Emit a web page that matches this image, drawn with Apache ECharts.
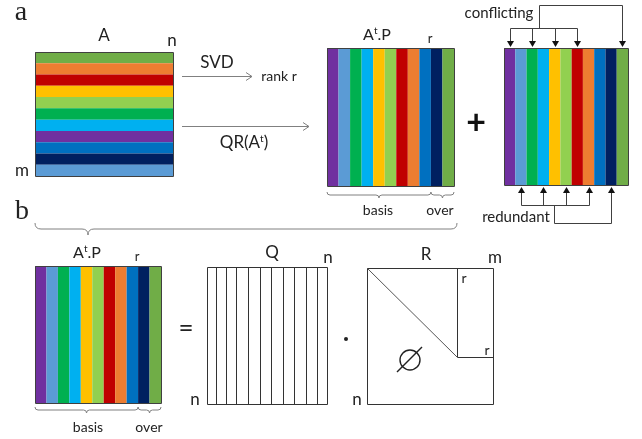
<!DOCTYPE html>
<html><head><meta charset="utf-8">
<script src="https://cdn.jsdelivr.net/npm/echarts/dist/echarts.min.js"></script>
<style>html,body{margin:0;padding:0;background:#fff}#c{width:642px;height:439px}</style>
</head><body><div id="c"></div>
<script>
// ---- data ----
const rowColorsA = ['#70AD47','#ED7D31','#C00000','#FFC000','#92D050','#00B050','#00B0F0','#7030A0','#0070C0','#002060','#5B9BD5'];
const colColorsAtP = ['#7030A0','#5B9BD5','#00B050','#00B0F0','#FFC000','#92D050','#C00000','#ED7D31','#0070C0','#002060','#70AD47'];
const qColumnWidths = [0.93,0.97,1.0,1.2,1.16,1.14,1.16,1.17,1.2,1.1,0.97];
const conflictingCols = [0,2,4,6,10];
const redundantCols = [1,3,5,7,9];
const basisCount = 9;   // columns under "basis"; the rest are "over"

// ---- layout ----
const SANS = 'Lato';
const SERIF = 'Liberation Serif';
const GRAY = '#808080';
const DARK = '#404040';
const mats = {
  A:   {left:35,  top:52,  width:138, height:124},
  top: {left:327, top:48,  width:127, height:138},
  conf:{left:504, top:48,  width:124, height:137},
  bot: {left:35,  top:266, width:126, height:137},
  Q:   {left:207, top:267, width:120, height:137}
};
const R = {left:367, top:268, width:126, height:136, innerX:457, innerY:357};

const grids=[], xAxes=[], yAxes=[], series=[];
function addVertical(m){
  const i=grids.length;
  grids.push(Object.assign({}, m));
  xAxes.push({gridIndex:i,type:'category',data:colColorsAtP.map((c,k)=>'c'+k),show:false});
  yAxes.push({gridIndex:i,type:'value',min:0,max:1,show:false});
  series.push({type:'bar',xAxisIndex:i,yAxisIndex:i,barCategoryGap:'0%',silent:true,
    data:colColorsAtP.map(c=>({value:1,itemStyle:{color:c}}))});
}
// A: horizontal stripes
grids.push(Object.assign({}, mats.A));
xAxes.push({gridIndex:0,type:'value',min:0,max:1,show:false});
yAxes.push({gridIndex:0,type:'category',inverse:true,data:rowColorsA.map((c,k)=>'r'+k),show:false});
series.push({type:'bar',xAxisIndex:0,yAxisIndex:0,barCategoryGap:'0%',silent:true,
  data:rowColorsA.map(c=>({value:1,itemStyle:{color:c}}))});
addVertical(mats.top);
addVertical(mats.conf);
addVertical(mats.bot);
// Q: stacked white columns (separators drawn from the same axis scale)
const qi=grids.length;
grids.push(Object.assign({}, mats.Q));
xAxes.push({gridIndex:qi,type:'value',min:0,max:qColumnWidths.reduce((a,b)=>a+b,0),show:false});
yAxes.push({gridIndex:qi,type:'category',data:['Q'],show:false});
qColumnWidths.forEach((w,k)=>series.push({type:'bar',xAxisIndex:qi,yAxisIndex:qi,stack:'q',barWidth:'100%',silent:true,
  data:[w],itemStyle:{color:'#fff'}}));

// ---- graphic helpers ----
const G=[];
function txt(t,x,y,size,opt){G.push(Object.assign({type:'text',z:10,style:Object.assign({text:t,x:x,y:y,
  font:(opt&&opt.weight?opt.weight+' ':'')+size+'px '+((opt&&opt.family)||SANS),fill:'#222',
  textAlign:'center',textVerticalAlign:'middle',align:'center',verticalAlign:'middle'},(opt&&opt.style)||{})}));}
function sup(base,s,rest,x,y,size){
  G.push({type:'text',z:10,style:{text:'{b|'+base+'}{s|'+s+'}{b|'+rest+'}',x:x,y:y,textAlign:'center',textVerticalAlign:'middle',align:'center',verticalAlign:'middle',
    rich:{b:{fontSize:size,fontFamily:SANS,lineHeight:size+2,fill:'#222',color:'#222'},
          s:{fontSize:Math.round(size*0.6),fontFamily:SANS,lineHeight:Math.round(size*0.6),verticalAlign:'top',fill:'#222',color:'#222'}}}});
}
function line(x1,y1,x2,y2,c,w){G.push({type:'line',z:10,shape:{x1,y1,x2,y2},style:{stroke:c||DARK,lineWidth:w||1}});}
function pline(pts,c,w){G.push({type:'polyline',z:10,shape:{points:pts},style:{stroke:c||DARK,lineWidth:w||1,fill:null}});}
function curve(x1,y1,cx,cy,x2,y2,c){G.push({type:'bezierCurve',z:10,shape:{x1,y1,x2,y2,cpx1:cx,cpy1:cy},style:{stroke:c||GRAY,lineWidth:1,fill:null}});}
function tri(x,y,dir){ // tip at x,y
  const h=6,hw=3.5;
  const pts = dir==='down'?[[x,y],[x-hw,y-h],[x+hw,y-h]]:[[x,y],[x-hw,y+h],[x+hw,y+h]];
  G.push({type:'polygon',z:10,shape:{points:pts},style:{fill:'#111'}});
}
function box(m,c){G.push({type:'rect',z:10,shape:{x:m.left+0.5,y:m.top+0.5,width:m.width,height:m.height},style:{fill:null,stroke:c||DARK,lineWidth:1}});}
function brace(x0,x1,xt,y,h){
  curve(x0,y-h,x0,y,x0+h,y);
  line(x0+h,y,xt-h,y,GRAY);
  curve(xt-h,y,xt,y,xt,y+h);
  curve(xt,y+h,xt,y,xt+h,y);
  line(xt+h,y,x1-h,y,GRAY);
  curve(x1-h,y,x1,y,x1,y-h);
}
function colCenter(m,k){return m.left+(k+0.5)*m.width/colColorsAtP.length;}
function colEdge(m,k){return m.left+k*m.width/colColorsAtP.length;}

// borders
box(mats.A); box(mats.top); box(mats.conf); box(mats.bot); box(mats.Q,'#333');

// panel a
txt('a',21,13,28,{family:SERIF});
txt('A',104,36,17);
txt('n',172,41,17);
txt('m',22,171,17);
txt('SVD',217,63,17);
line(182,76.5,252,76.5,GRAY); pline([[246,72.5],[252,76.5],[246,80.5]],GRAY);
txt('rank r',279,76,14);
line(182,126.5,309,126.5,GRAY); pline([[303,122.5],[309,126.5],[303,130.5]],GRAY);
sup('QR(A','t',')',244,143,17);
sup('A','t','.P',377,35,16);
txt('r',430,39,13);
const tb=colEdge(mats.top,basisCount);
brace(mats.top.left,tb,(mats.top.left+tb)/2,195,3);
brace(tb,mats.top.left+mats.top.width,(tb+mats.top.left+mats.top.width)/2,195,3);
txt('basis',378,210,14); txt('over',440,210,14);
txt('+',476,123,34,{weight:'bold',style:{fill:'#111'}});

// conflicting
txt('conflicting',499,13,15);
const cx=conflictingCols.map(k=>Math.round(colCenter(mats.conf,k))+0.5);
pline([[539.5,28.5],[539.5,5.5],[cx[4],5.5],[cx[4],41]]);
line(cx[0],28.5,cx[3],28.5);
for(let k=0;k<4;k++) line(cx[k],28.5,cx[k],41);
cx.forEach(x=>tri(x,47,'down'));
// redundant
txt('redundant',516,217,15);
const rx=redundantCols.map(k=>Math.round(colCenter(mats.conf,k))+0.5);
line(rx[0],205.5,rx[3],205.5);
for(let k=0;k<4;k++) line(rx[k],205.5,rx[k],193);
pline([[554.5,205.5],[554.5,223.5],[rx[4],223.5],[rx[4],193]]);
rx.forEach(x=>tri(x,187,'up'));

// big brace joining a->b
brace(35,457,88,229,6);

// panel b
txt('b',22,212,28,{family:SERIF});
sup('A','t','.P',87,253,16);
txt('r',137,257,13);
const bb=colEdge(mats.bot,basisCount);
brace(mats.bot.left,bb,(mats.bot.left+bb)/2,410,3);
brace(bb,mats.bot.left+mats.bot.width,(bb+mats.bot.left+mats.bot.width)/2,410,3);
txt('basis',88,427,14); txt('over',149,427,14);
txt('=',186,329,26);
txt('Q',272,253,17);
txt('n',328,258,17);
txt('n',195,400,17);
G.push({type:'circle',z:10,shape:{cx:346,cy:339,r:2},style:{fill:'#222'}});
// R
G.push({type:'rect',z:10,shape:{x:R.left+0.5,y:R.top+0.5,width:R.width,height:R.height},style:{fill:null,stroke:'#333',lineWidth:1}});
pline([[R.innerX+0.5,R.top],[R.innerX+0.5,R.innerY+0.5],[R.left+R.width,R.innerY+0.5]],'#333');
line(R.left,R.top,R.innerX,R.innerY,'#555');
txt('R',426,255,17);
txt('m',495,258,17);
txt('r',464,278,14);
txt('r',487,350,14);
txt('n',357,400,17);
G.push({type:'circle',z:10,shape:{cx:410,cy:360,r:10},style:{fill:null,stroke:'#222',lineWidth:1.4}});
line(397,372,422,347,'#222',1.4);

const chart=echarts.init(document.getElementById('c'),null,{renderer:'canvas'});
chart.setOption({animation:false,grid:grids,xAxis:xAxes,yAxis:yAxes,series:series});
// Q column separators placed through the Q grid's x scale
let acc=0;
qColumnWidths.slice(0,-1).forEach(w=>{
  acc+=w;
  const px=Math.round(chart.convertToPixel({xAxisIndex:qi},acc))+0.5;
  line(px,mats.Q.top,px,mats.Q.top+mats.Q.height,'#333',1);
});
chart.setOption({graphic:{elements:G}});
</script></body></html>
